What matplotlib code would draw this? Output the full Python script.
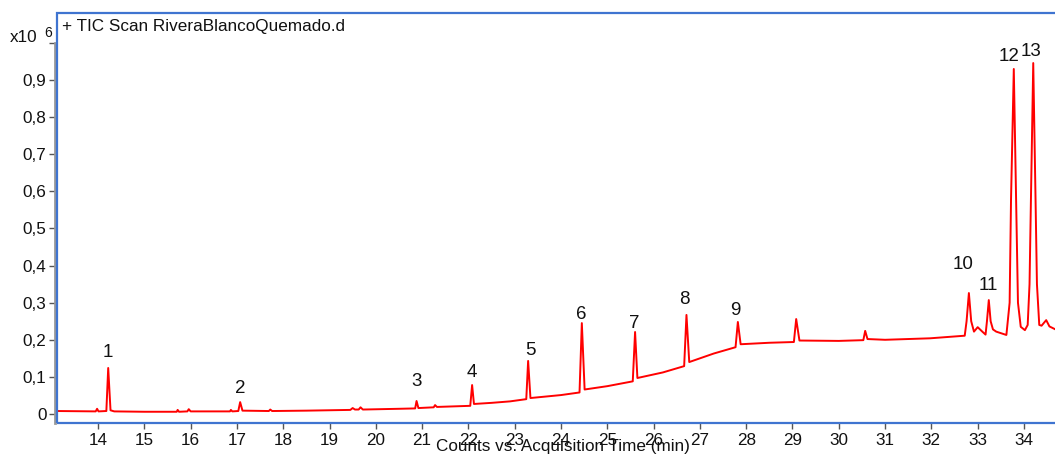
import matplotlib
matplotlib.use("Agg")
import matplotlib.pyplot as plt
import numpy as np
from matplotlib.patches import Rectangle

plt.rcParams["font.family"] = ["Liberation Sans", "DejaVu Sans"]

# TIC trace (counts in units of 1e6)
rt_min = [
    13.11, 13.95, 13.98, 14.01, 14.18, 14.22, 14.27, 14.35, 15.00, 15.70,
    15.72, 15.75, 15.93, 15.96, 16.00, 16.85, 16.87, 16.90, 17.03, 17.07,
    17.12, 17.69, 17.72, 17.76, 18.50, 19.45, 19.50, 19.55, 19.63, 19.67,
    19.72, 20.50, 20.85, 20.88, 20.92, 21.25, 21.28, 21.32, 22.04, 22.08,
    22.12, 22.50, 22.90, 23.25, 23.29, 23.34, 24.00, 24.40, 24.45, 24.51,
    25.00, 25.55, 25.60, 25.65, 26.20, 26.66, 26.71, 26.77, 27.30, 27.77,
    27.82, 27.88, 28.50, 29.03, 29.08, 29.15, 30.00, 30.53, 30.57, 30.62,
    31.00, 31.97, 32.72, 32.76, 32.81, 32.86, 32.92, 33.00, 33.10, 33.17,
    33.20, 33.24, 33.28, 33.33, 33.40, 33.62, 33.69, 33.72, 33.78, 33.83,
    33.87, 33.93, 34.02, 34.08, 34.12, 34.15, 34.20, 34.25, 34.28, 34.33,
    34.38, 34.48, 34.55, 34.68,
]
counts_1e6 = [
    0.008, 0.007, 0.014, 0.007, 0.008, 0.124, 0.010, 0.007, 0.006, 0.006,
    0.011, 0.006, 0.007, 0.013, 0.007, 0.007, 0.011, 0.007, 0.008, 0.032,
    0.009, 0.008, 0.012, 0.008, 0.009, 0.011, 0.016, 0.012, 0.012, 0.018,
    0.012, 0.014, 0.015, 0.035, 0.016, 0.018, 0.024, 0.019, 0.022, 0.078,
    0.027, 0.030, 0.034, 0.040, 0.143, 0.043, 0.051, 0.058, 0.245, 0.066,
    0.075, 0.088, 0.221, 0.097, 0.112, 0.129, 0.267, 0.140, 0.163, 0.180,
    0.248, 0.188, 0.192, 0.194, 0.256, 0.198, 0.197, 0.199, 0.224, 0.202,
    0.200, 0.204, 0.211, 0.250, 0.326, 0.250, 0.222, 0.234, 0.222, 0.214,
    0.250, 0.307, 0.250, 0.228, 0.222, 0.213, 0.300, 0.577, 0.930, 0.577,
    0.300, 0.235, 0.226, 0.240, 0.350, 0.577, 0.946, 0.577, 0.350, 0.240,
    0.238, 0.253, 0.236, 0.228,
]

# numbered peaks
peak_labels = ["1", "2", "3", "4", "5", "6", "7", "8", "9", "10", "11", "12", "13"]
peak_rt = [14.22, 17.07, 20.88, 22.08, 23.29, 24.45, 25.60, 26.71, 27.82, 32.81, 33.24, 33.78, 34.20]
peak_top = [0.124, 0.032, 0.035, 0.078, 0.143, 0.245, 0.221, 0.267, 0.248, 0.326, 0.307, 0.930, 0.946]
# label offsets in pixels (dx, dy above the peak top)
label_dx = [0, 0, 0, 0, 2, -1, -1, -2, -3, -6, 0, -5, -2]
label_dy = [15, 14, 20, 13, 10, 9, 9, 15, 11, 29, 15, 12, 12]

y_ticks = [0, 0.1, 0.2, 0.3, 0.4, 0.5, 0.6, 0.7, 0.8, 0.9, 1.0]
x_ticks = list(range(14, 35))

W, H = 1055, 455
fig = plt.figure(figsize=(W / 100, H / 100), dpi=100)
ax = fig.add_axes([57 / W, 1 - 423 / H, 1 - 57 / W, 410 / H])

ax.plot(rt_min, counts_1e6, color="#ff0000", lw=1.4)

ax.set_xlim(13.114, 34.67)
ax.set_ylim(-0.0243, 1.0809)

blue = "#3f74d0"
grey = "#555555"
for s in ax.spines.values():
    s.set_visible(False)
ax.spines["left"].set_visible(True)
ax.spines["left"].set_color("#999999")
ax.spines["left"].set_linewidth(2)
ax.spines["left"].set_position(("outward", 1.5))
ax.spines["left"].set_bounds(-0.0243, 1.0)
ax.add_patch(Rectangle((0, 0), 1.2, 1, transform=ax.transAxes, fill=False,
                       edgecolor=blue, lw=1.6, clip_on=False, zorder=5))

ax.set_yticks(y_ticks)
ax.set_yticklabels([("%.1f" % v).replace(".", ",") if 0 < v < 1 else ("0" if v == 0 else "") for v in y_ticks])
ax.set_xticks(x_ticks)
ax.set_xticklabels([str(v) for v in x_ticks])
ax.tick_params(axis="both", direction="out", length=4, width=1, color=grey,
               labelsize=12.3, labelcolor="#111111")
ax.tick_params(axis="x", pad=3)
ax.tick_params(axis="y", pad=2)

for lab, t, h, dx, dy in zip(peak_labels, peak_rt, peak_top, label_dx, label_dy):
    ax.annotate(lab, (t, h), xytext=(dx * 0.72, dy * 0.72), textcoords="offset points",
                ha="center", va="center", fontsize=13.5, color="#111111")

ax.text(5 / (W - 57), 1 - 13 / 410, "+ TIC Scan RiveraBlancoQuemado.d", transform=ax.transAxes,
        ha="left", va="center", fontsize=12.3, color="#111111")

fig.text(10 / W, 1 - 38 / H, "x10", ha="left", va="center", fontsize=12.3, color="#111111")
fig.text(44 / W, 1 - 33 / H, "6", ha="left", va="center", fontsize=10, color="#111111")
fig.text(563 / W, 1 - 447 / H, "Counts vs. Acquisition Time (min)", ha="center", va="center",
         fontsize=12.3, color="#111111")

fig.savefig("out.png", dpi=100)
